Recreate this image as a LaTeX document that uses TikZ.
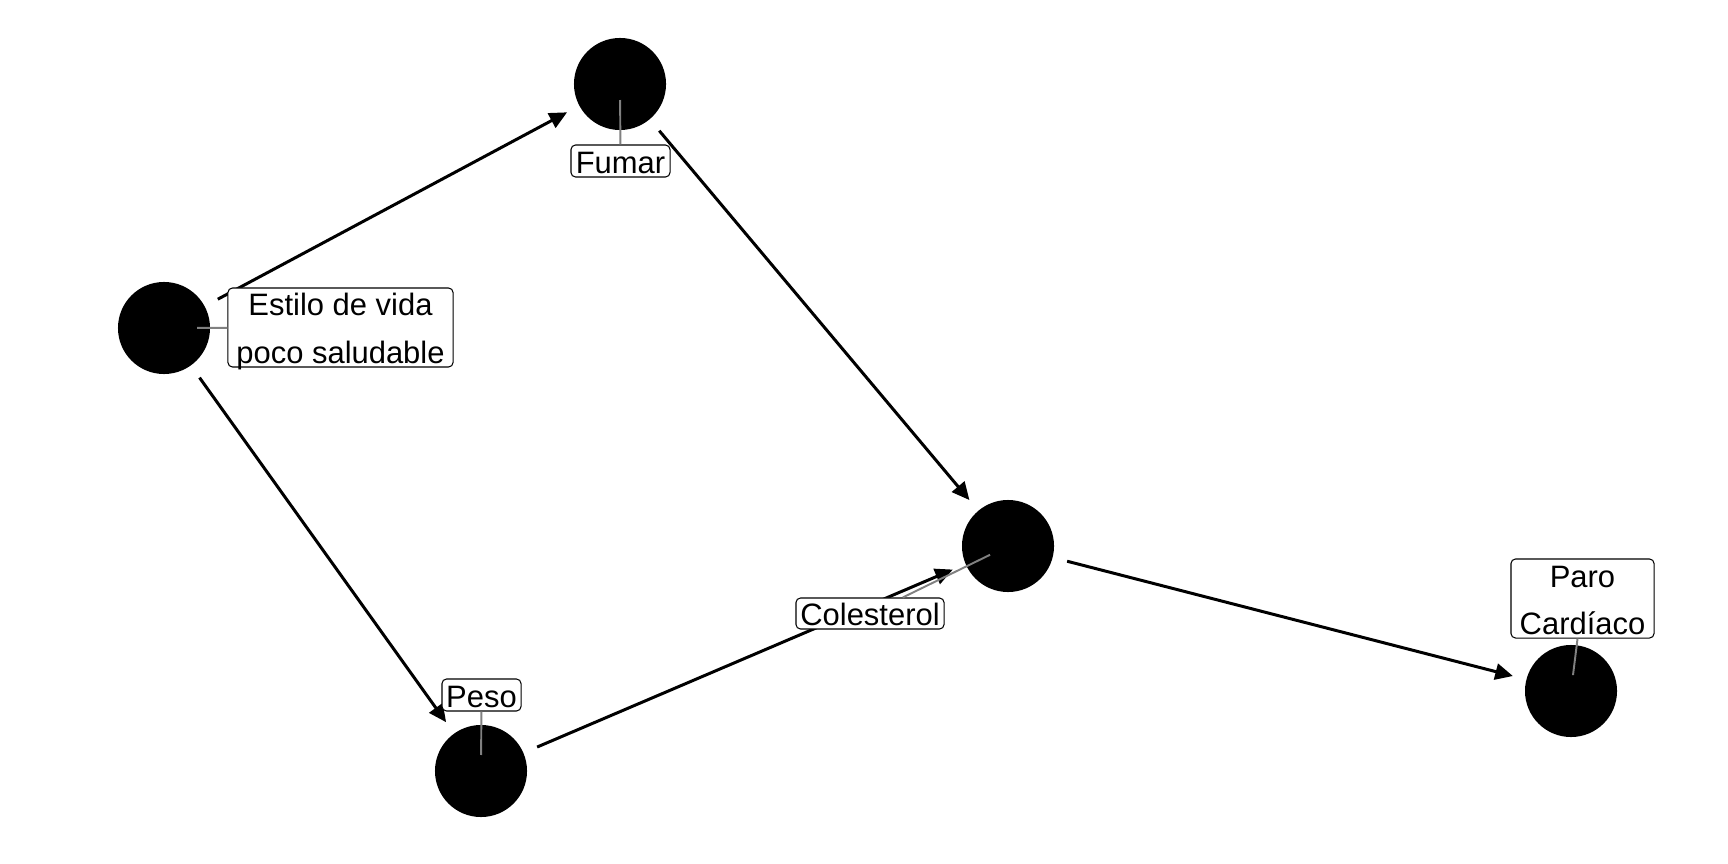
\documentclass[tikz,border=0pt]{standalone}
\usepackage{fontspec}
\setmainfont{Liberation Sans}
\usetikzlibrary{arrows.meta,calc}
\newcommand\lbltext[1]{\smash{\lower3pt\hbox{\begin{tabular}{@{}c@{}}#1\end{tabular}}}}
\begin{document}
\begin{tikzpicture}[x=0.01cm,y=-0.01cm,
  pt/.style={circle,fill=black,draw=none,minimum size=0.92cm,inner sep=0pt,outer sep=0pt},
  lbl/.style={draw=black,line width=0.3pt,fill=white,rounded corners=1.3pt,inner sep=0pt,
    font=\fontsize{8.8}{13.4}\selectfont},
  edgearrow/.style={line width=0.85pt,-{Triangle[length=5pt,width=4.6pt]},shorten <=0.15cm,shorten >=0.14cm},
  seg/.style={draw=black!50,line width=0.55pt}]
\useasboundingbox (0,0) rectangle (1728,864);
% points
\node[pt] (e) at (164,328) {};
\node[pt] (f) at (620,84) {};
\node[pt] (c) at (1008,546) {};
\node[pt] (p) at (481,771) {};
\node[pt] (h) at (1571,691) {};
% connectors
\draw[edgearrow] (e) -- (f);
\draw[edgearrow] (e) -- (p);
\draw[edgearrow] (f) -- (c);
\draw[edgearrow] (p) -- (c);
\draw[edgearrow] (c) -- (h);
% labels
\node[lbl,minimum width=2.25cm,minimum height=0.79cm] (el) at (340.5,327.5) {\lbltext{Estilo de vida\\poco saludable}};
\node[lbl,minimum width=0.99cm,minimum height=0.32cm] (fl) at (620.5,161) {\lbltext{Fumar}};
\node[lbl,minimum width=1.48cm,minimum height=0.31cm] (cl) at (870,613.5) {\lbltext{Colesterol}};
\node[lbl,minimum width=0.79cm,minimum height=0.32cm] (pl) at (481.5,695) {\lbltext{Peso}};
\node[lbl,minimum width=1.43cm,minimum height=0.79cm] (hl) at (1582.5,598.5) {\lbltext{Paro\\Cardíaco}};
% label segments
\draw[seg] ($(e)!0.33cm!(el)$) -- (el);
\draw[seg] ($(f)!0.16cm!(fl)$) -- (fl);
\draw[seg] ($(c)!0.2cm!(cl)$) -- (cl);
\draw[seg] ($(p)!0.16cm!(pl)$) -- (pl);
\draw[seg] ($(h)!0.16cm!(hl)$) -- (hl);
\end{tikzpicture}
\end{document}
